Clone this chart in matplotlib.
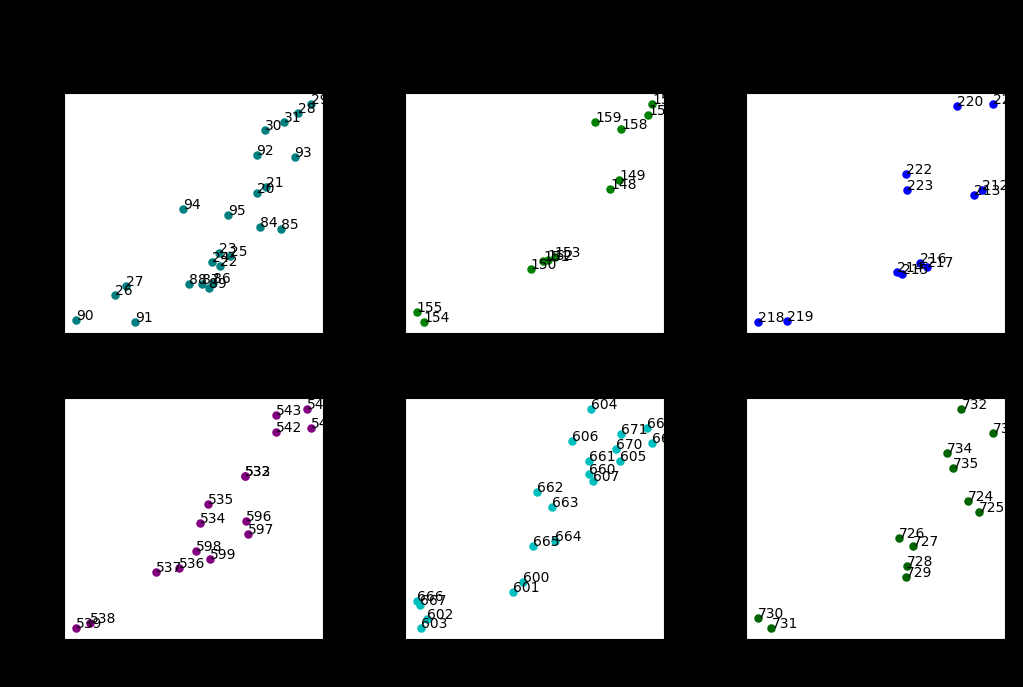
import numpy as np
import matplotlib
matplotlib.use("Agg")
import matplotlib.pyplot as plt

# point ids and 2-d positions per group
ids_1 = [29, 28, 31, 30, 92, 93, 21, 20, 94, 95, 84, 85, 23, 25, 24, 22, 27, 88, 87, 86, 89, 26, 90, 91]
x_1 = [248.7, 235.7, 221.3, 201.7, 193.7, 232, 203.3, 193.7, 119.3, 165.3, 197.3, 218, 155.3, 166.7, 148.7, 157, 61.7, 125.3, 138.7, 150, 145.7, 51.3, 11.3, 71.3]
y_1 = [230.3, 221, 211.3, 203.7, 178, 176.3, 145.7, 140, 123.7, 117.7, 105, 103, 78.7, 75.7, 69.7, 65.7, 46, 47.3, 48, 48.7, 44, 36.3, 11, 8.7]

ids_2 = [157, 156, 159, 158, 149, 148, 153, 152, 151, 150, 155, 154]
x_2 = [248, 244, 191, 217, 215, 206, 150, 143, 138.5, 126, 11, 18]
y_2 = [230, 219, 211, 204, 153, 144, 75, 72.5, 71, 63, 20, 9]

ids_3 = [221, 220, 222, 223, 213, 212, 216, 217, 214, 215, 218, 219]
x_3 = [249, 212.7, 161.7, 162.7, 230.3, 238.3, 175.3, 182.3, 152.3, 157.7, 11.7, 41.3]
y_3 = [230, 228, 158.7, 143, 138, 142.3, 68.7, 64.7, 60, 57.7, 9, 10]

ids_4 = [541, 540, 543, 542, 532, 533, 535, 534, 596, 597, 598, 599, 536, 537, 538, 539]
x_4 = [244.3, 248.7, 213.3, 213.3, 181.7, 182, 144.7, 137, 183, 185, 132.7, 146.7, 115.3, 92, 25.3, 11.3]
y_4 = [230.7, 211.3, 225, 207.3, 163.7, 163.2, 135, 115.3, 117.3, 104.7, 87.7, 79, 70.3, 66.3, 14.7, 9.7]

ids_5 = [604, 669, 668, 671, 606, 670, 661, 605, 660, 607, 662, 663, 664, 665, 600, 601, 666, 667, 602, 603]
x_5 = [186.3, 243.3, 248.3, 217, 167.7, 212, 184.7, 215.7, 184.3, 188.3, 132.3, 147.3, 150, 127.7, 118.3, 108, 10.7, 14, 20.7, 15]
y_5 = [230.7, 211.3, 196.7, 205.3, 198.7, 190.7, 178, 178, 165, 158.3, 146.7, 131.7, 98, 93, 55.7, 46, 37.3, 33.3, 18.3, 9.7]

ids_6 = [732, 733, 734, 735, 724, 725, 726, 727, 728, 729, 730, 731]
x_6 = [217.3, 249, 202.7, 208.7, 224.3, 235, 154.7, 168.3, 162.7, 161.7, 11.7, 25.7]
y_6 = [230.7, 206.3, 186.7, 171.3, 138, 127.3, 100.7, 93, 72, 61.7, 19.3, 9.7]

groups = [(ids_1, x_1, y_1, 'teal'),
          (ids_2, x_2, y_2, 'green'),
          (ids_3, x_3, y_3, 'blue'),
          (ids_4, x_4, y_4, 'purple'),
          (ids_5, x_5, y_5, 'c'),
          (ids_6, x_6, y_6, 'darkgreen')]

fig, axes = plt.subplots(2, 3, figsize=(10.23, 6.87), dpi=100)
fig.patch.set_facecolor('black')
plt.subplots_adjust(left=0.0626, right=0.982, top=0.865, bottom=0.07, wspace=0.317, hspace=0.27)

for ax, (ids, xs, ys, col) in zip(axes.flat, groups):
    ax.scatter(xs, ys, color=col, s=26)
    for i, x, y in zip(ids, xs, ys):
        ax.text(x, y, str(i))

plt.savefig("out.png", facecolor=fig.get_facecolor())
